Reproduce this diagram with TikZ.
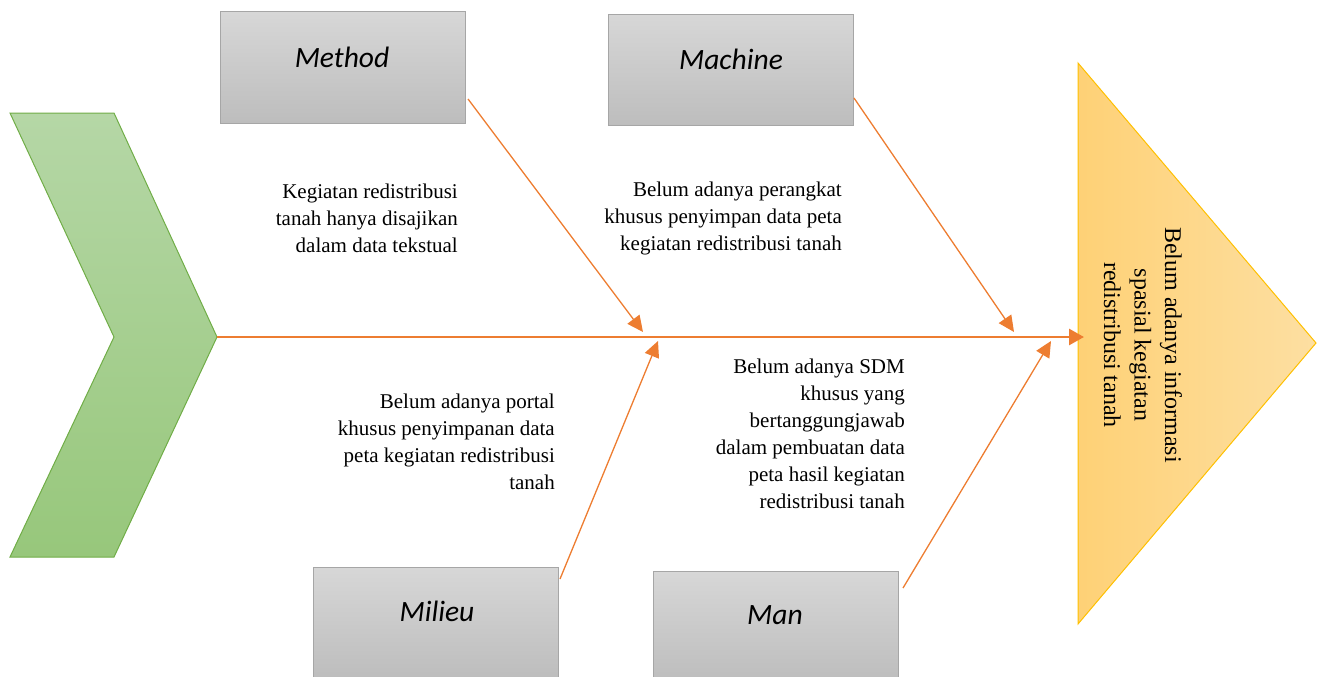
\documentclass[tikz,border=0pt]{standalone}
\usepackage{fontspec}
\setmainfont{Liberation Serif}
\newfontfamily\calib{Carlito}
\newfontfamily\timesf{Liberation Serif}
\newcommand\causefont{\timesf\fontsize{21}{27}\selectfont}
\newcommand\catfont{\calib\itshape\fontsize{29.5}{35}\selectfont}
\usetikzlibrary{arrows.meta}
\definecolor{bone}{RGB}{237,125,49}
\definecolor{gtop}{RGB}{215,215,215}
\definecolor{gbot}{RGB}{189,189,189}
\definecolor{gline}{RGB}{166,166,166}
\definecolor{chtop}{RGB}{181,215,166}
\definecolor{chbot}{RGB}{151,199,123}
\definecolor{chline}{RGB}{112,173,71}
\definecolor{trleft}{RGB}{254,209,118}
\definecolor{trright}{RGB}{253,223,162}
\definecolor{trline}{RGB}{255,192,0}
\begin{document}
\begin{tikzpicture}[x=1pt,y=-1pt,
  catbox/.style={draw=gline, line width=1pt, top color=gtop, bottom color=gbot,
    minimum width=245pt, minimum height=111pt, inner sep=0pt},
  catlabel/.style={inner sep=0pt},
  causetext/.style={align=right, inner sep=0pt, anchor=east},
  bonearrow/.style={draw=bone, line width=1.3pt, -{Triangle[length=16pt,width=15pt]}},
  spinearrow/.style={draw=bone, line width=2.8pt, -{Triangle[length=15pt,width=16pt]}}]
\useasboundingbox (0,0) rectangle (1317,677);

% tail chevron
\shade[top color=chtop, bottom color=chbot, draw=chline, line width=1pt]
  (10,113) -- (114,113) -- (217,337) -- (114,557) -- (10,557) -- (114,337) -- cycle;

% head triangle
\shade[left color=trleft, right color=trright, draw=trline, line width=1pt]
  (1078,63) -- (1316,343) -- (1078,624) -- cycle;
\node[font=\timesf\fontsize{24}{30.5}\selectfont, align=center, rotate=-90, inner sep=0pt] (effect) at (1143,345)
  {Belum adanya informasi\\spasial kegiatan\\redistribusi tanah};

% causes
\node[causetext, font=\causefont] (c1) at (458,218)
  {Kegiatan redistribusi\\tanah hanya disajikan\\dalam data tekstual};
\node[causetext, font=\causefont] (c2) at (842,218)
  {Belum adanya perangkat\\khusus penyimpan data peta\\kegiatan redistribusi tanah};
\node[causetext, font=\causefont] (c3) at (555,442)
  {Belum adanya portal\\khusus penyimpanan data\\peta kegiatan redistribusi\\tanah};
\node[causetext, font=\causefont] (c4) at (905,434)
  {Belum adanya SDM\\khusus yang\\bertanggungjawab\\dalam pembuatan data\\peta hasil kegiatan\\redistribusi tanah};

% category boxes
\node[catbox] (method) at (342.5,67.5) {};
\node[catbox] (machine) at (730.5,70) {};
\node[catbox] (milieu) at (436,622.5) {};
\node[catbox] (man) at (775.5,626.5) {};
\node[catlabel, font=\catfont] (methodl) at (342,57) {Method};
\node[catlabel, font=\catfont] (machinel) at (731,59) {Machine};
\node[catlabel, font=\catfont] (milieul) at (437,611) {Milieu};
\node[catlabel, font=\catfont] (manl) at (775,615) {Man};

% connector points
\coordinate (tail) at (217,337);
\coordinate (head) at (1084,337);
\coordinate (s1) at (468,99);
\coordinate (e1) at (643,332);
\coordinate (s2) at (854,98);
\coordinate (e2) at (1014,332);
\coordinate (s3) at (560,579);
\coordinate (e3) at (658,341);
\coordinate (s4) at (903,588);
\coordinate (e4) at (1051,341);

\draw[spinearrow] (tail) -- (head);
\draw[bonearrow] (s1) -- (e1);
\draw[bonearrow] (s2) -- (e2);
\draw[bonearrow] (s3) -- (e3);
\draw[bonearrow] (s4) -- (e4);
\end{tikzpicture}
\end{document}
